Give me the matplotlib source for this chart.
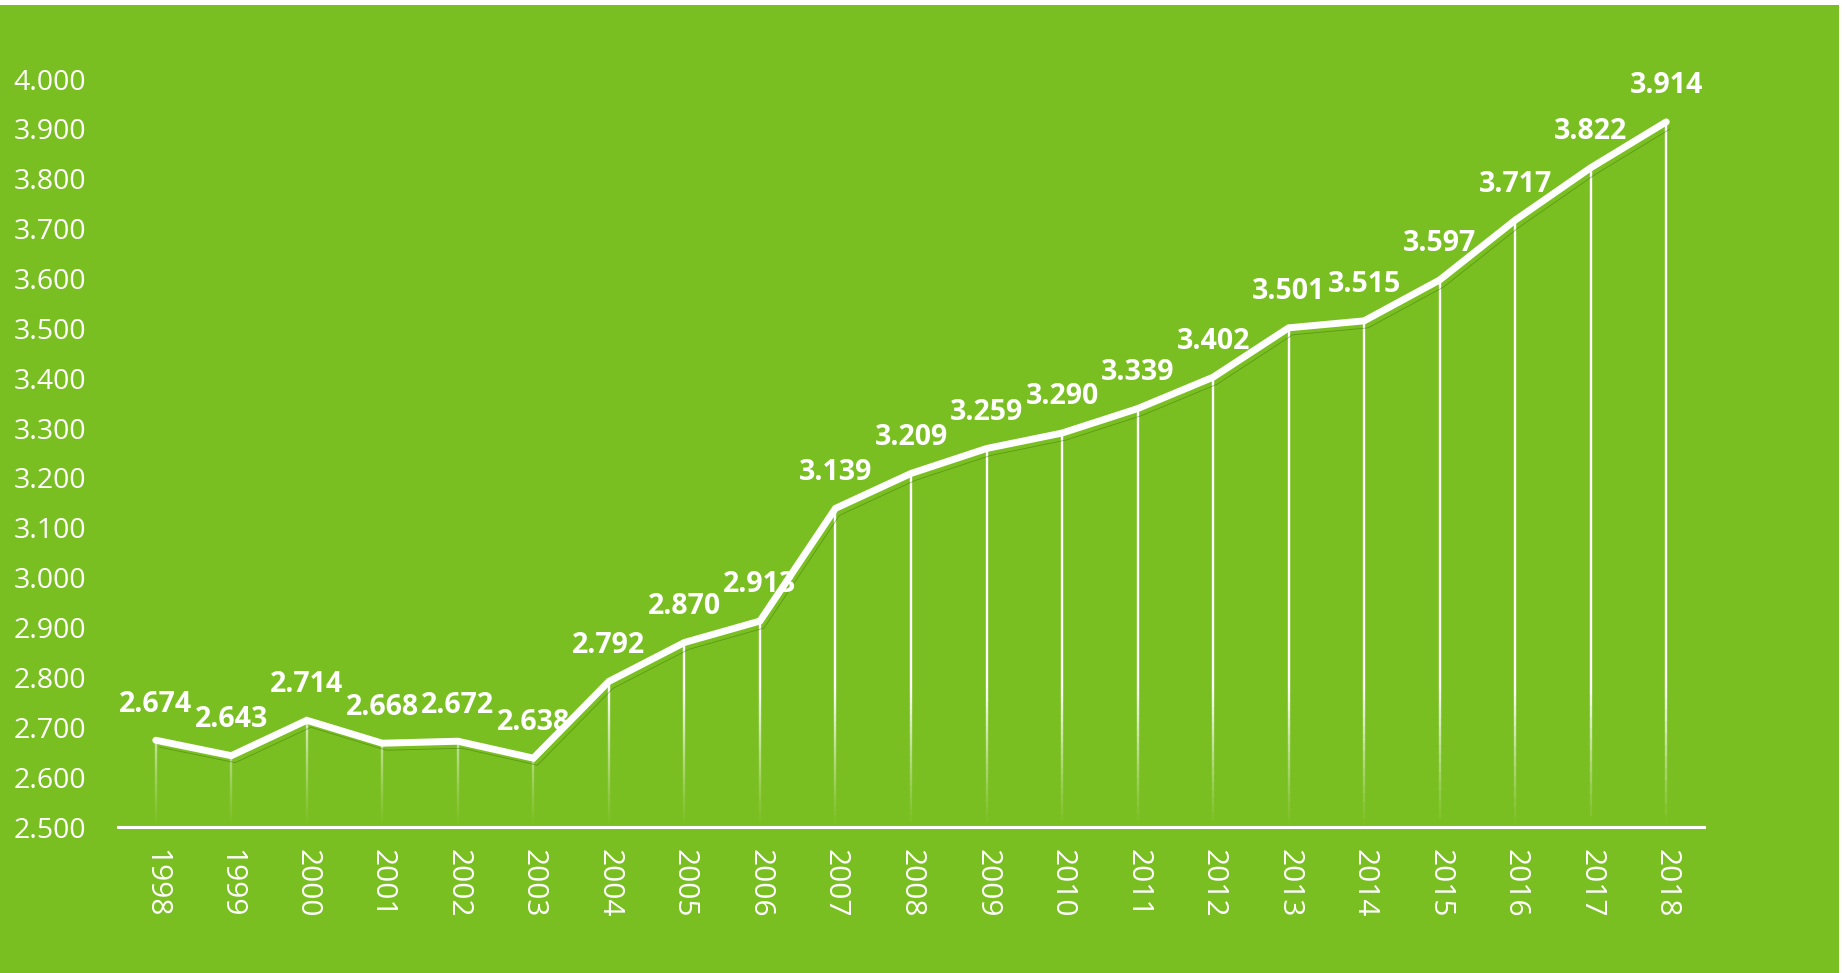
import numpy as np
import matplotlib
matplotlib.use("Agg")
import matplotlib.pyplot as plt
from matplotlib.patches import Rectangle
from matplotlib.collections import LineCollection
import matplotlib.transforms as mtransforms

years = ["1998", "1999", "2000", "2001", "2002", "2003", "2004", "2005", "2006",
         "2007", "2008", "2009", "2010", "2011", "2012", "2013", "2014", "2015",
         "2016", "2017", "2018"]
values = [2.674, 2.643, 2.714, 2.668, 2.672, 2.638, 2.792, 2.870, 2.913,
          3.139, 3.209, 3.259, 3.290, 3.339, 3.402, 3.501, 3.515, 3.597,
          3.717, 3.822, 3.914]
yticks = [2.5, 2.6, 2.7, 2.8, 2.9, 3.0, 3.1, 3.2, 3.3, 3.4, 3.5, 3.6, 3.7, 3.8, 3.9, 4.0]

GREEN = "#7ABF21"
SHADOW = "#3F7A0C"
FONT = "Open Sans"

W, H = 1845, 973
fig = plt.figure(figsize=(W / 100, H / 100), dpi=100)
fig.patch.set_facecolor("white")
bg = Rectangle((0, 0), 1839 / W, 968 / H, transform=fig.transFigure,
               facecolor=GREEN, edgecolor="none", zorder=-10)
fig.patches.append(bg)

ax = fig.add_axes([118 / W, (H - 827) / H, (1704 - 118) / W, (827 - 79) / H])
ax.set_zorder(1)
ax.set_facecolor("none")
x = np.arange(len(years))
ax.set_xlim(-0.5, len(years) - 0.5)
ax.set_ylim(2.5, 4.0)

# drop lines with fading towards bottom
segs, cols = [], []
n = 60
for xi, v in zip(x, values):
    ys = np.linspace(2.5, v, n + 1)
    for k in range(n):
        y0, y1 = ys[k], ys[k + 1]
        segs.append([(xi, y0), (xi, y1)])
        a = np.clip(((y0 + y1) / 2 - 2.5) / 0.28, 0, 1) ** 1.2
        cols.append((1, 1, 1, a))
ax.add_collection(LineCollection(segs, colors=cols, linewidths=1.7, zorder=2,
                                 capstyle="butt"))

# shadow line
shadow_tr = mtransforms.offset_copy(ax.transData, fig=fig, x=4, y=-7, units="dots")
ax.plot(x, values, color=SHADOW, lw=0.6, alpha=0.55, transform=shadow_tr, zorder=2.5)

# data labels
for xi, v in zip(x, values):
    ax.annotate(f"{v:.3f}", (xi, v), xytext=(0, 26), textcoords="offset points",
                ha="center", va="center", color="white", fontsize=20.5,
                fontweight="bold", family=FONT, zorder=3)

# main line (drawn above labels)
ax.plot(x, values, color="white", lw=5.0, solid_capstyle="round",
        solid_joinstyle="miter", zorder=4)

for s in ["top", "right", "left"]:
    ax.spines[s].set_visible(False)
ax.spines["bottom"].set_color("white")
ax.spines["bottom"].set_linewidth(2.2)
ax.spines["bottom"].set_zorder(5)

ax.set_xticks(x)
ax.set_xticklabels(years, rotation=-90, fontsize=21.5, family=FONT, color="white")
ax.set_yticks(yticks)
ax.set_yticklabels([f"{t:.3f}" for t in yticks], fontsize=20.5, family=FONT, color="white")
ax.tick_params(axis="x", length=0, pad=16)
ax.tick_params(axis="y", length=0, pad=23)

fig.savefig("out.png", dpi=100, facecolor=fig.get_facecolor())
